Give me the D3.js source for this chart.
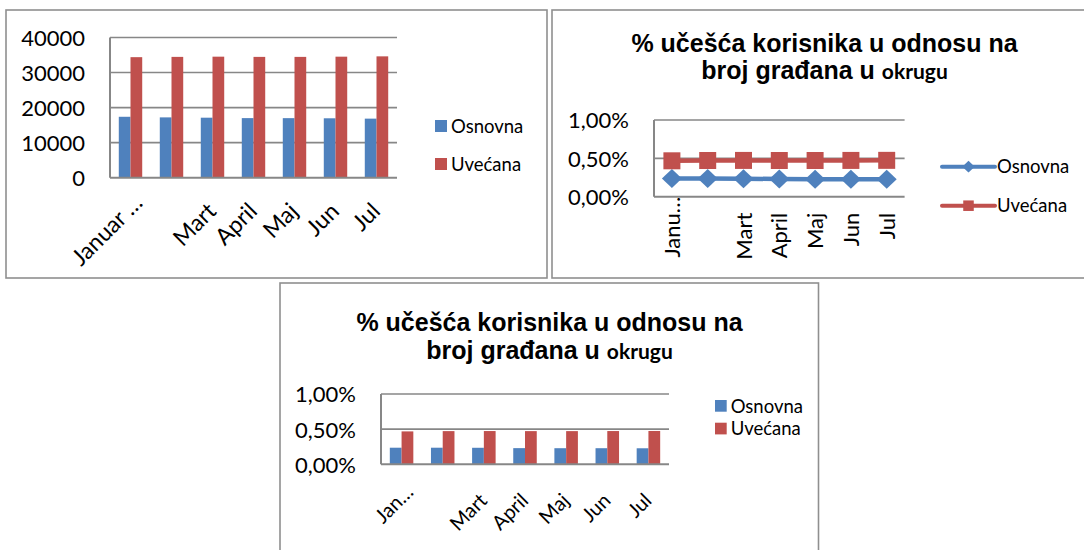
<!DOCTYPE html>
<html>
<head>
<meta charset="utf-8">
<script src="https://cdn.jsdelivr.net/npm/d3@7"></script>
<style>
  html, body { margin: 0; padding: 0; background: #fff; }
  svg { display: block; }
  text { white-space: pre; }
</style>
</head>
<body>
<svg id="chart" width="1084" height="550"></svg>
<script>
// ---- data ----------------------------------------------------------------
const months = ["Januar", "Februar", "Mart", "April", "Maj", "Jun", "Jul"];
const seriesNames = ["Osnovna", "Uvećana"];

// number of users per month
const osnovnaCount = [17380, 17210, 17120, 17000, 16990, 16950, 16850];
const uvecanaCount = [34390, 34470, 34530, 34470, 34470, 34530, 34620];

// users as a share of the district population
const osnovnaShare = [0.00236, 0.00236, 0.00235, 0.00230, 0.00229, 0.00229, 0.00228];
const uvecanaShare = [0.00468, 0.00472, 0.00473, 0.00472, 0.00472, 0.00473, 0.00474];

const countTicks = [0, 10000, 20000, 30000, 40000];
const shareTicks = [0, 0.005, 0.01];

// month labels as shown under each chart (shortened where space is tight)
const countMonthLabels = ["Januar …", "", "Mart", "April", "Maj", "Jun", "Jul"];
const lineMonthLabels  = ["Janu…", "", "Mart", "April", "Maj", "Jun", "Jul"];
const barMonthLabels   = ["Jan…", "", "Mart", "April", "Maj", "Jun", "Jul"];

const titleMain = "% učešća korisnika u odnosu na";
const titleSecond = "broj građana u ";
const titleTail = "okrugu";

// ---- styling -------------------------------------------------------------
const colors = { "Osnovna": "#4F81BD", "Uvećana": "#C0504D" };
const GRID = "#878787";
const FRAME = "#8f8f8f";
const FONT = "Lato, 'Open Sans', sans-serif";
const TITLE_FONT = "'Liberation Sans', Arial, sans-serif";

const locale = d3.formatLocale({ decimal: ",", thousands: ".", grouping: [3], currency: ["", " €"] });
const pct = locale.format(".2%");
const plain = d3.format("d");

const svg = d3.select("#chart");

function frame(x, y, w, h) {
  svg.append("rect")
    .attr("x", x).attr("y", y).attr("width", w).attr("height", h)
    .attr("fill", "#fff").attr("stroke", FRAME).attr("stroke-width", 1.6);
}

function title(cx, y1, y2) {
  const t = svg.append("text")
    .attr("text-anchor", "middle")
    .attr("font-family", TITLE_FONT)
    .attr("font-weight", "bold")
    .attr("font-size", 25)
    .attr("fill", "#000");
  t.append("tspan").attr("x", cx).attr("y", y1).text(titleMain);
  t.append("tspan").attr("x", cx).attr("y", y2).text(titleSecond);
  t.append("tspan").attr("font-family", FONT).attr("font-size", 21).text(titleTail);
}

// value axis: labels on the left, horizontal gridlines
function valueAxis(g, y, ticks, fmt, box, fontSize) {
  g.append("g")
    .selectAll("line")
    .data(ticks.filter(d => d !== 0))
    .join("line")
    .attr("x1", box.left).attr("x2", box.right)
    .attr("y1", d => y(d)).attr("y2", d => y(d))
    .attr("stroke", GRID).attr("stroke-width", 1.6);

  g.append("g")
    .attr("transform", `translate(${box.left},0)`)
    .call(d3.axisLeft(y).tickValues(ticks).tickSize(0).tickPadding(25).tickFormat(fmt))
    .call(a => a.select(".domain").remove())
    .selectAll("text")
    .attr("font-family", FONT)
    .attr("font-size", fontSize)
    .attr("fill", "#000")
    .attr("dy", "0.36em");
}

function axisLines(g, box) {
  g.append("line")
    .attr("x1", box.left).attr("x2", box.left)
    .attr("y1", box.top).attr("y2", box.bottom)
    .attr("stroke", GRID).attr("stroke-width", 2);
  g.append("line")
    .attr("x1", box.left).attr("x2", box.right)
    .attr("y1", box.bottom).attr("y2", box.bottom)
    .attr("stroke", GRID).attr("stroke-width", 2);
}

// category axis with slanted month names
function slantedMonths(g, x, labels, box, opts) {
  g.append("g")
    .attr("transform", `translate(0,${box.bottom})`)
    .call(d3.axisBottom(x).tickSize(0).tickFormat((d, i) => labels[i]))
    .call(a => a.select(".domain").remove())
    .selectAll("text")
    .attr("font-family", FONT)
    .attr("font-size", opts.fontSize)
    .attr("fill", "#000")
    .attr("x", 0).attr("y", 0).attr("dy", null)
    .attr("text-anchor", "end")
    .attr("dx", (d, i) => labels[i].endsWith("…") ? opts.shortShift : 0)
    .attr("transform", `translate(${opts.dx},${opts.dy}) rotate(${opts.angle})`);
}

function groupedBars(g, x0, y, values, box) {
  const x1 = d3.scaleBand().domain(seriesNames).range([0, x0.bandwidth()]).paddingOuter(0.75);
  const rows = months.map((m, i) => seriesNames.map((s, k) => ({ m, s, v: values[k][i] })));
  g.append("g")
    .selectAll("g")
    .data(rows)
    .join("g")
    .selectAll("rect")
    .data(d => d)
    .join("rect")
    .attr("x", d => x0(d.m) + x1(d.s))
    .attr("width", x1.bandwidth())
    .attr("y", d => y(d.v))
    .attr("height", d => box.bottom - y(d.v))
    .attr("fill", d => colors[d.s]);
}

function squareLegend(g, x, ys, size, fontSize) {
  seriesNames.forEach((s, k) => {
    g.append("rect")
      .attr("x", x).attr("y", ys[k]).attr("width", size).attr("height", size)
      .attr("fill", colors[s]);
    g.append("text")
      .attr("x", x + size + 4).attr("y", ys[k] + size / 2)
      .attr("dy", "0.36em")
      .attr("font-family", FONT).attr("font-size", fontSize).attr("fill", "#000")
      .text(s);
  });
}

function diamondPath(cx, cy, hw, hh) {
  const p = d3.path();
  p.moveTo(cx, cy - hh); p.lineTo(cx + hw, cy); p.lineTo(cx, cy + hh); p.lineTo(cx - hw, cy); p.closePath();
  return p.toString();
}
function squarePath(cx, cy, s) {
  const p = d3.path();
  p.rect(cx - s / 2, cy - s / 2, s, s);
  return p.toString();
}
const markers = {
  "Osnovna": (cx, cy, k) => diamondPath(cx, cy, 10 * k, 9.5 * k),
  "Uvećana": (cx, cy, k) => squarePath(cx, cy, 17 * k)
};

// ---- chart 1: user counts ----------------------------------------------------
(function () {
  frame(6, 10, 541, 268);
  const box = { left: 110, right: 397, top: 37.5, bottom: 177.7 };
  const g = svg.append("g");
  const x0 = d3.scaleBand().domain(months).range([box.left, box.right]);
  const y = d3.scaleLinear().domain([0, 40000]).range([box.bottom, box.top]);
  valueAxis(g, y, countTicks, plain, box, 22);
  groupedBars(g, x0, y, [osnovnaCount, uvecanaCount], box);
  axisLines(g, box);
  slantedMonths(g, x0, countMonthLabels, box, { fontSize: 23, dx: 5, dy: 35, angle: -45, shortShift: 12 });
  squareLegend(g, 435, [120, 158], 12, 18.5);
})();

// ---- chart 2: share of population, lines -----------------------------------
(function () {
  frame(552, 10, 560, 268);
  title(824.5, 52, 79);
  const box = { left: 654, right: 904.6, top: 120, bottom: 196.7 };
  const g = svg.append("g");
  const x = d3.scaleBand().domain(months).range([box.left, box.right]);
  const y = d3.scaleLinear().domain([0, 0.01]).range([box.bottom, box.top]);
  valueAxis(g, y, shareTicks, pct, box, 22);
  axisLines(g, box);
  slantedMonths(g, x, lineMonthLabels, box, { fontSize: 22, dx: 8, dy: 16, angle: -90, shortShift: 16 });

  const cx = m => x(m) + x.bandwidth() / 2;
  const series = [osnovnaShare, uvecanaShare];
  seriesNames.forEach((s, k) => {
    const vals = series[k];
    g.append("path")
      .datum(vals)
      .attr("fill", "none")
      .attr("stroke", colors[s])
      .attr("stroke-width", 4.5)
      .attr("stroke-linejoin", "round")
      .attr("d", d3.line().x((d, i) => cx(months[i])).y(d => y(d)));
    g.append("g")
      .selectAll("path")
      .data(vals)
      .join("path")
      .attr("fill", colors[s])
      .attr("d", (d, i) => markers[s](cx(months[i]), y(d), 1));
  });

  // legend
  const ly = [166.7, 205.7];
  seriesNames.forEach((s, k) => {
    g.append("line")
      .attr("x1", 942).attr("x2", 995).attr("y1", ly[k]).attr("y2", ly[k])
      .attr("stroke", colors[s]).attr("stroke-width", 4).attr("stroke-linecap", "round");
    g.append("path").attr("fill", colors[s]).attr("d", markers[s](968.5, ly[k], 0.62));
    g.append("text")
      .attr("x", 997).attr("y", ly[k]).attr("dy", "0.36em")
      .attr("font-family", FONT).attr("font-size", 18.5).attr("fill", "#000")
      .text(s);
  });
})();

// ---- chart 3: share of population, bars ------------------------------------
(function () {
  frame(280, 283, 538.5, 300);
  title(549.5, 331, 359);
  const box = { left: 381, right: 669, top: 394, bottom: 464.3 };
  const g = svg.append("g");
  const x0 = d3.scaleBand().domain(months).range([box.left, box.right]);
  const y = d3.scaleLinear().domain([0, 0.01]).range([box.bottom, box.top]);
  valueAxis(g, y, shareTicks, pct, box, 22);
  groupedBars(g, x0, y, [osnovnaShare, uvecanaShare], box);
  axisLines(g, box);
  slantedMonths(g, x0, barMonthLabels, box, { fontSize: 20, dx: 4.5, dy: 37.5, angle: -45, shortShift: 12 });
  squareLegend(g, 715, [400, 422.7], 11.7, 18.5);
})();
</script>
</body>
</html>
